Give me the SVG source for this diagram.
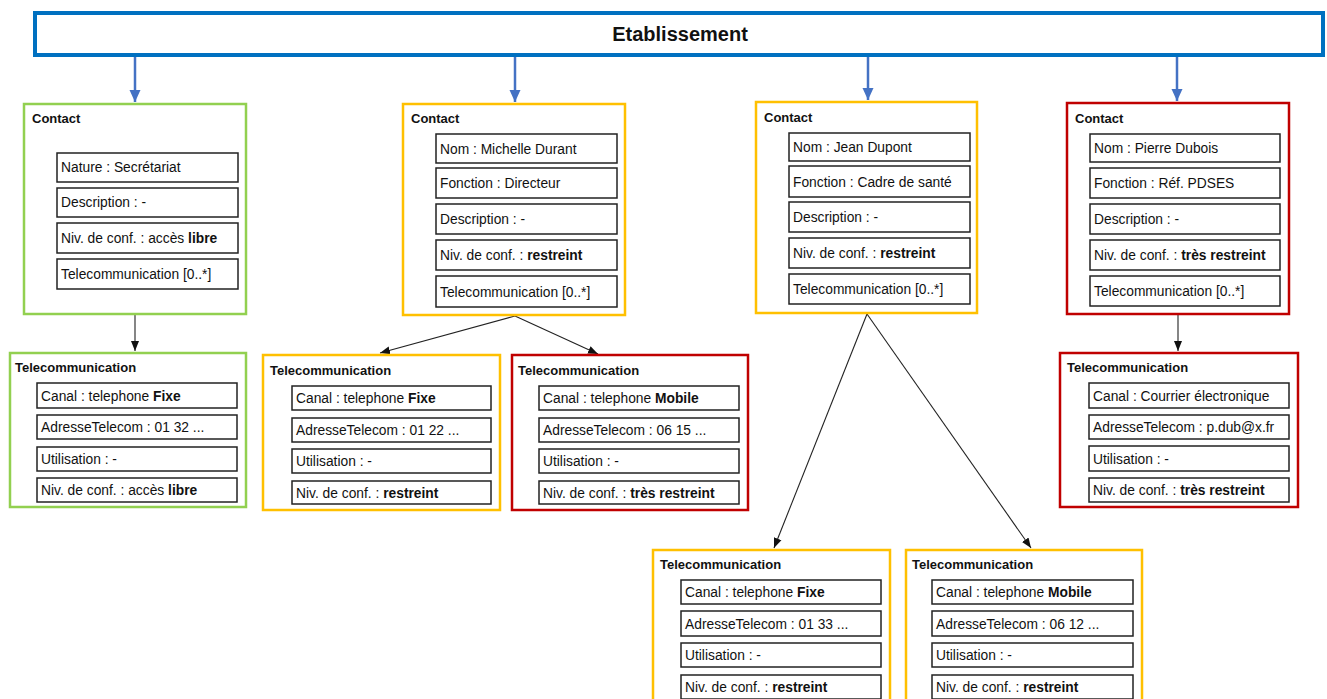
<svg xmlns="http://www.w3.org/2000/svg" width="1327" height="699" viewBox="0 0 1327 699">
<style>
text{font-family:"Liberation Sans",Arial,sans-serif;fill:#111}
.h{font-size:13px;font-weight:bold}
.t{font-size:13.8px}
.b{font-weight:bold}
.cell{fill:#fff;stroke:#222;stroke-width:1.5}
.g{fill:#fff;stroke:#92D050;stroke-width:2.5}
.y{fill:#fff;stroke:#FFC000;stroke-width:2.5}
.r{fill:#fff;stroke:#C00000;stroke-width:2.5}
.blue{stroke:#4472C4;stroke-width:2.5;fill:none}
.blk{stroke:#222;stroke-width:1.1;fill:none}
</style>
<defs>
<marker id="ab" markerUnits="userSpaceOnUse" markerWidth="12" markerHeight="12" viewBox="0 0 12 12" refX="12" refY="6" orient="auto"><path d="M0,0.5 L12,6 L0,11.5 z" fill="#4472C4"/></marker>
<marker id="ak" markerUnits="userSpaceOnUse" markerWidth="10" markerHeight="10" viewBox="0 0 10 10" refX="10" refY="5" orient="auto"><path d="M0,1 L10,5 L0,9 z" fill="#111"/></marker>
</defs>
<rect width="1327" height="699" fill="#fff"/>

<g id="connectors">
<line class="blue" x1="135" y1="57" x2="135" y2="102" marker-end="url(#ab)"/>
<line class="blue" x1="515" y1="57" x2="515" y2="102" marker-end="url(#ab)"/>
<line class="blue" x1="868" y1="57" x2="868" y2="100" marker-end="url(#ab)"/>
<line class="blue" x1="1177" y1="57" x2="1177" y2="101" marker-end="url(#ab)"/>
<line class="blk" x1="135" y1="315" x2="135" y2="351" marker-end="url(#ak)"/>
<line class="blk" x1="515" y1="316" x2="380" y2="353" marker-end="url(#ak)"/>
<line class="blk" x1="515" y1="316" x2="598" y2="354" marker-end="url(#ak)"/>
<line class="blk" x1="867" y1="314" x2="774" y2="548" marker-end="url(#ak)"/>
<line class="blk" x1="867" y1="314" x2="1031" y2="548" marker-end="url(#ak)"/>
<line class="blk" x1="1178" y1="315" x2="1178" y2="351" marker-end="url(#ak)"/>
</g>

<g id="etablissement">
<rect x="35" y="13" width="1288" height="42" fill="#fff" stroke="#0070C0" stroke-width="4"/>
<text x="680" y="41" text-anchor="middle" style="font-size:20px;font-weight:bold">Etablissement</text>
</g>

<g id="contact1">
<rect class="g" x="24" y="104" width="222" height="210"/>
<text class="h" x="32" y="122.5">Contact</text>
<rect class="cell" x="57" y="153" width="181" height="29"/><text class="t" x="61" y="172">Nature : Secrétariat</text>
<rect class="cell" x="57" y="188" width="181" height="29"/><text class="t" x="61" y="207">Description : -</text>
<rect class="cell" x="57" y="223" width="181" height="30"/><text class="t" x="61" y="243">Niv. de conf. : accès <tspan class="b">libre</tspan></text>
<rect class="cell" x="57" y="259" width="181" height="30"/><text class="t" x="61" y="279">Telecommunication [0..*]</text>
</g>

<g id="contact2">
<rect class="y" x="403" y="104" width="222" height="211"/>
<text class="h" x="411" y="122.5">Contact</text>
<rect class="cell" x="436" y="134" width="181" height="29"/><text class="t" x="440" y="153.5">Nom : Michelle Durant</text>
<rect class="cell" x="436" y="168" width="181" height="30"/><text class="t" x="440" y="188">Fonction : Directeur</text>
<rect class="cell" x="436" y="204" width="181" height="30"/><text class="t" x="440" y="224">Description : -</text>
<rect class="cell" x="436" y="240" width="181" height="30"/><text class="t" x="440" y="260">Niv. de conf. : <tspan class="b">restreint</tspan></text>
<rect class="cell" x="436" y="276" width="181" height="31"/><text class="t" x="440" y="296.5">Telecommunication [0..*]</text>
</g>

<g id="contact3">
<rect class="y" x="756" y="102" width="221" height="211"/>
<text class="h" x="764" y="121.5">Contact</text>
<rect class="cell" x="789" y="133" width="181" height="28"/><text class="t" x="793" y="152">Nom : Jean Dupont</text>
<rect class="cell" x="789" y="166" width="181" height="31"/><text class="t" x="793" y="186.5">Fonction : Cadre de santé</text>
<rect class="cell" x="789" y="202" width="181" height="30"/><text class="t" x="793" y="222">Description : -</text>
<rect class="cell" x="789" y="238" width="181" height="30"/><text class="t" x="793" y="258">Niv. de conf. : <tspan class="b">restreint</tspan></text>
<rect class="cell" x="789" y="274" width="181" height="30"/><text class="t" x="793" y="294">Telecommunication [0..*]</text>
</g>

<g id="contact4">
<rect class="r" x="1067" y="103" width="222" height="211"/>
<text class="h" x="1075" y="122.5">Contact</text>
<rect class="cell" x="1090" y="134" width="190" height="28"/><text class="t" x="1094" y="153">Nom : Pierre Dubois</text>
<rect class="cell" x="1090" y="168" width="190" height="30"/><text class="t" x="1094" y="188">Fonction : Réf. PDSES</text>
<rect class="cell" x="1090" y="204" width="190" height="30"/><text class="t" x="1094" y="224">Description : -</text>
<rect class="cell" x="1090" y="240" width="190" height="30"/><text class="t" x="1094" y="260">Niv. de conf. : <tspan class="b">très restreint</tspan></text>
<rect class="cell" x="1090" y="276" width="190" height="30"/><text class="t" x="1094" y="296">Telecommunication [0..*]</text>
</g>

<g id="telecom1">
<rect class="g" x="10" y="353" width="236" height="154"/>
<text class="h" x="15" y="372">Telecommunication</text>
<rect class="cell" x="37" y="383" width="200" height="25"/><text class="t" x="41" y="400.5">Canal : telephone <tspan class="b">Fixe</tspan></text>
<rect class="cell" x="37" y="415" width="200" height="24"/><text class="t" x="41" y="432">AdresseTelecom : 01 32 ...</text>
<rect class="cell" x="37" y="447" width="200" height="24"/><text class="t" x="41" y="464">Utilisation : -</text>
<rect class="cell" x="37" y="478" width="200" height="24"/><text class="t" x="41" y="495">Niv. de conf. : accès <tspan class="b">libre</tspan></text>
</g>

<g id="telecom2">
<rect class="y" x="263" y="355" width="237" height="155"/>
<text class="h" x="270" y="374.5">Telecommunication</text>
<rect class="cell" x="292" y="386" width="199" height="24"/><text class="t" x="296" y="403">Canal : telephone <tspan class="b">Fixe</tspan></text>
<rect class="cell" x="292" y="418" width="199" height="24"/><text class="t" x="296" y="435">AdresseTelecom : 01 22 ...</text>
<rect class="cell" x="292" y="449" width="199" height="24"/><text class="t" x="296" y="466">Utilisation : -</text>
<rect class="cell" x="292" y="481" width="199" height="23"/><text class="t" x="296" y="497.5">Niv. de conf. : <tspan class="b">restreint</tspan></text>
</g>

<g id="telecom3">
<rect class="r" x="512" y="355" width="236" height="155"/>
<text class="h" x="518" y="374.5">Telecommunication</text>
<rect class="cell" x="539" y="386" width="200" height="24"/><text class="t" x="543" y="403">Canal : telephone <tspan class="b">Mobile</tspan></text>
<rect class="cell" x="539" y="418" width="200" height="24"/><text class="t" x="543" y="435">AdresseTelecom : 06 15 ...</text>
<rect class="cell" x="539" y="449" width="200" height="24"/><text class="t" x="543" y="466">Utilisation : -</text>
<rect class="cell" x="539" y="481" width="200" height="23"/><text class="t" x="543" y="497.5">Niv. de conf. : <tspan class="b">très restreint</tspan></text>
</g>

<g id="telecom4">
<rect class="r" x="1060" y="353" width="238" height="154"/>
<text class="h" x="1067" y="372">Telecommunication</text>
<rect class="cell" x="1089" y="383" width="200" height="25"/><text class="t" x="1093" y="400.5">Canal : Courrier électronique</text>
<rect class="cell" x="1089" y="415" width="200" height="24"/><text class="t" x="1093" y="432">AdresseTelecom : p.dub@x.fr</text>
<rect class="cell" x="1089" y="446" width="200" height="25"/><text class="t" x="1093" y="463.5">Utilisation : -</text>
<rect class="cell" x="1089" y="478" width="200" height="24"/><text class="t" x="1093" y="495">Niv. de conf. : <tspan class="b">très restreint</tspan></text>
</g>

<g id="telecom5">
<rect class="y" x="653" y="550" width="237" height="165"/>
<text class="h" x="660" y="568.5">Telecommunication</text>
<rect class="cell" x="681" y="580" width="200" height="24"/><text class="t" x="685" y="597">Canal : telephone <tspan class="b">Fixe</tspan></text>
<rect class="cell" x="681" y="611" width="200" height="25"/><text class="t" x="685" y="628.5">AdresseTelecom : 01 33 ...</text>
<rect class="cell" x="681" y="643" width="200" height="24"/><text class="t" x="685" y="660">Utilisation : -</text>
<rect class="cell" x="681" y="675" width="200" height="24"/><text class="t" x="685" y="692">Niv. de conf. : <tspan class="b">restreint</tspan></text>
</g>

<g id="telecom6">
<rect class="y" x="906" y="550" width="236" height="165"/>
<text class="h" x="912" y="568.5">Telecommunication</text>
<rect class="cell" x="932" y="580" width="201" height="24"/><text class="t" x="936" y="597">Canal : telephone <tspan class="b">Mobile</tspan></text>
<rect class="cell" x="932" y="611" width="201" height="25"/><text class="t" x="936" y="628.5">AdresseTelecom : 06 12 ...</text>
<rect class="cell" x="932" y="643" width="201" height="24"/><text class="t" x="936" y="660">Utilisation : -</text>
<rect class="cell" x="932" y="675" width="201" height="24"/><text class="t" x="936" y="692">Niv. de conf. : <tspan class="b">restreint</tspan></text>
</g>
</svg>
